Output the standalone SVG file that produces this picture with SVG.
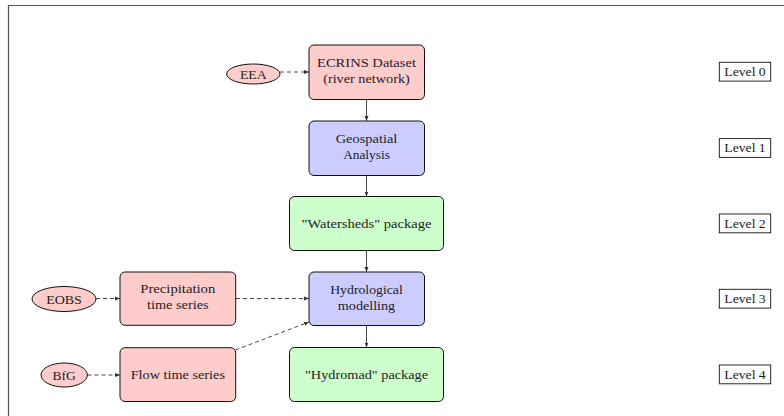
<svg xmlns="http://www.w3.org/2000/svg" width="784" height="416" viewBox="0 0 784 416" font-family="'Liberation Serif', 'Times New Roman', 'DejaVu Serif', serif">
  <style>
    text { font-family: 'Liberation Serif', 'Times New Roman', 'DejaVu Serif', serif; font-size: 13px; fill: #222; text-anchor: middle; }
    .box { stroke: #111; stroke-width: 1; }
    .src { fill: #ffcccc; }
    .proc { fill: #ccccff; }
    .pkg { fill: #ccffcc; }
    .lvl { fill: #fff; stroke: #111; stroke-width: 0.9; }
    .solid { stroke: #333; stroke-width: 0.9; fill: none; marker-end: url(#tip); }
    .dash { stroke: #333; stroke-width: 0.9; fill: none; stroke-dasharray: 4 3; marker-end: url(#tip); }
  </style>
  <defs>
    <marker id="tip" viewBox="0 0 6 6" refX="6" refY="3" markerWidth="5" markerHeight="5" markerUnits="userSpaceOnUse" orient="auto">
      <path d="M0,0.6 L6,3 L0,5.4 Z" fill="#333"/>
    </marker>
  </defs>
  <rect width="784" height="416" fill="#fff"/>

  <!-- frame -->
  <path d="M8.5,416 V5.5 H784" fill="none" stroke="#555" stroke-width="1.2"/>

  <!-- connectors -->
  <g id="connectors">
    <line class="solid" x1="366.5" y1="99.5" x2="366.5" y2="121"/>
    <line class="solid" x1="366.5" y1="175.5" x2="366.5" y2="196.5"/>
    <line class="solid" x1="366.5" y1="250.5" x2="366.5" y2="272"/>
    <line class="solid" x1="366.5" y1="325.5" x2="366.5" y2="347.5"/>
    <line class="dash" x1="280" y1="72" x2="309" y2="72"/>
    <line class="dash" x1="96" y1="298.5" x2="120" y2="298.5"/>
    <line class="dash" x1="236" y1="298.5" x2="309" y2="298.5"/>
    <line class="dash" x1="87.5" y1="375" x2="120" y2="375"/>
    <line class="dash" x1="235.5" y1="350" x2="309" y2="322"/>
  </g>

  <!-- sources -->
  <g id="eea">
    <ellipse class="box src" cx="253.3" cy="74" rx="26.7" ry="10"/>
    <text x="253.3" y="78.5" textLength="26.7" lengthAdjust="spacingAndGlyphs">EEA</text>
  </g>
  <g id="eobs">
    <ellipse class="box src" cx="64" cy="299" rx="32" ry="12.5"/>
    <text x="64" y="303.5" textLength="35.7" lengthAdjust="spacingAndGlyphs">EOBS</text>
  </g>
  <g id="bfg">
    <ellipse class="box src" cx="64.2" cy="375" rx="23.2" ry="12"/>
    <text x="64.2" y="379.5" textLength="23.3" lengthAdjust="spacingAndGlyphs">BfG</text>
  </g>

  <!-- main chain -->
  <g id="ecrins">
    <rect class="box src" x="309" y="45" width="115.5" height="54.5" rx="5"/>
    <text x="366.5" y="66.5" textLength="99" lengthAdjust="spacingAndGlyphs">ECRINS Dataset</text>
    <text x="366.5" y="82.5" textLength="86.7" lengthAdjust="spacingAndGlyphs">(river network)</text>
  </g>
  <g id="geospatial">
    <rect class="box proc" x="309" y="121" width="115.5" height="54.5" rx="5"/>
    <text x="366.5" y="143" textLength="61.7" lengthAdjust="spacingAndGlyphs">Geospatial</text>
    <text x="366.5" y="158.5" textLength="46.7" lengthAdjust="spacingAndGlyphs">Analysis</text>
  </g>
  <g id="watersheds">
    <rect class="box pkg" x="289.5" y="196.5" width="154" height="54" rx="5"/>
    <text x="366.5" y="227.5" textLength="130" lengthAdjust="spacingAndGlyphs">"Watersheds" package</text>
  </g>
  <g id="hydrological">
    <rect class="box proc" x="309" y="272" width="115.5" height="53.5" rx="5"/>
    <text x="366.5" y="293.5" textLength="72.6" lengthAdjust="spacingAndGlyphs">Hydrological</text>
    <text x="366.5" y="309.5" textLength="57.4" lengthAdjust="spacingAndGlyphs">modelling</text>
  </g>
  <g id="hydromad">
    <rect class="box pkg" x="289.5" y="347.5" width="154" height="54" rx="5"/>
    <text x="366.5" y="379" textLength="123" lengthAdjust="spacingAndGlyphs">"Hydromad" package</text>
  </g>

  <!-- input time series -->
  <g id="precipitation">
    <rect class="box src" x="120" y="272" width="115.7" height="53.3" rx="5"/>
    <text x="177.8" y="293.3" textLength="75" lengthAdjust="spacingAndGlyphs">Precipitation</text>
    <text x="177.8" y="309" textLength="61.7" lengthAdjust="spacingAndGlyphs">time series</text>
  </g>
  <g id="flow">
    <rect class="box src" x="120" y="347.7" width="115.7" height="53.8" rx="5"/>
    <text x="177.8" y="379" textLength="94.3" lengthAdjust="spacingAndGlyphs">Flow time series</text>
  </g>

  <!-- level labels -->
  <g id="level0">
    <rect class="lvl" x="719.3" y="62.3" width="51.4" height="18.8"/>
    <text x="745" y="76" textLength="41.4" lengthAdjust="spacingAndGlyphs">Level 0</text>
  </g>
  <g id="level1">
    <rect class="lvl" x="719.3" y="138.6" width="51.4" height="18.8"/>
    <text x="745" y="152.3" textLength="41.4" lengthAdjust="spacingAndGlyphs">Level 1</text>
  </g>
  <g id="level2">
    <rect class="lvl" x="719.3" y="214" width="51.4" height="18.8"/>
    <text x="745" y="227.7" textLength="41.4" lengthAdjust="spacingAndGlyphs">Level 2</text>
  </g>
  <g id="level3">
    <rect class="lvl" x="719.3" y="289.3" width="51.4" height="18.8"/>
    <text x="745" y="303" textLength="41.4" lengthAdjust="spacingAndGlyphs">Level 3</text>
  </g>
  <g id="level4">
    <rect class="lvl" x="719.3" y="365" width="51.4" height="18.8"/>
    <text x="745" y="378.7" textLength="41.4" lengthAdjust="spacingAndGlyphs">Level 4</text>
  </g>
</svg>
